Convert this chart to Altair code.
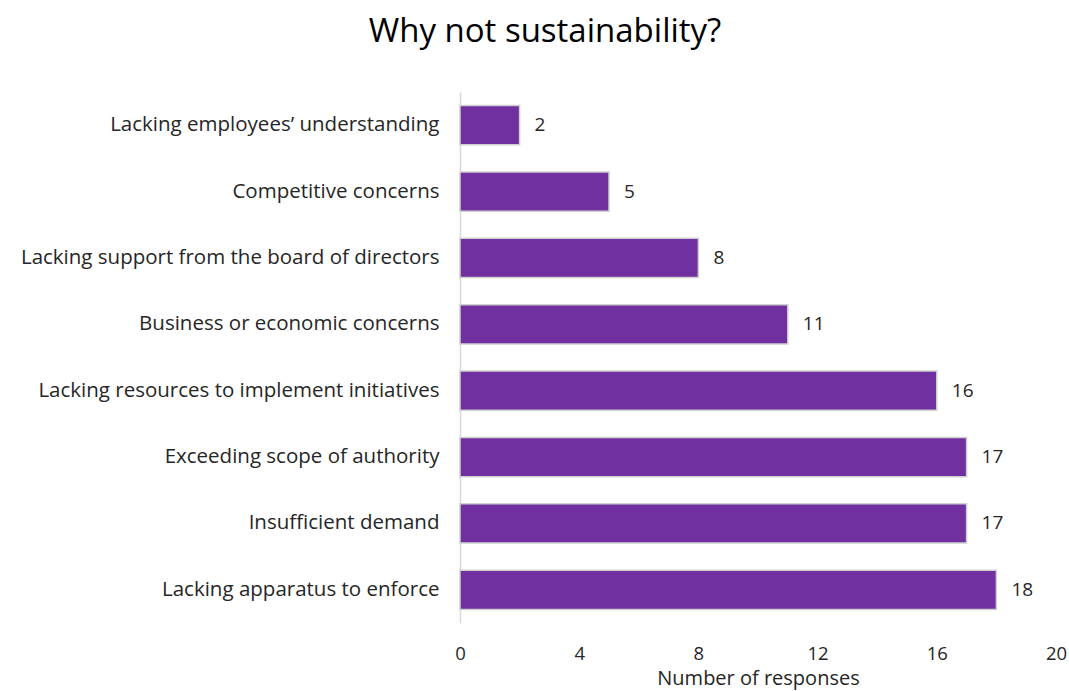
import altair as alt
import pandas as pd

categories = [
    "Lacking employees\u2019 understanding",
    "Competitive concerns",
    "Lacking support from the board of directors",
    "Business or economic concerns",
    "Lacking resources to implement initiatives",
    "Exceeding scope of authority",
    "Insufficient demand",
    "Lacking apparatus to enforce",
]
values = [2, 5, 8, 11, 16, 17, 17, 18]
x_ticks = [0, 4, 8, 12, 16, 20]

df = pd.DataFrame({"reason": categories, "count": values})

FONT = "Open Sans"
TXT = "#262626"

base = alt.Chart(df)

y_enc = alt.Y(
    "reason:N",
    sort=categories,
    title=None,
    scale=alt.Scale(paddingInner=0.41, paddingOuter=0.205),
    axis=alt.Axis(
        ticks=False,
        domain=True,
        domainColor="#D9D9D9",
        domainWidth=1.5,
        labelPadding=21,
        labelLimit=600,
        labelFont=FONT,
        labelFontSize=20.5,
        labelColor=TXT,
    ),
)

bars = base.mark_bar(color="#7030A0", stroke="#D0D0D0", strokeWidth=1.5).encode(
    x=alt.X(
        "count:Q",
        scale=alt.Scale(domain=[0, 20], nice=False),
        title="Number of responses",
        axis=alt.Axis(
            values=x_ticks,
            grid=False,
            ticks=False,
            domain=False,
            labelFlush=False,
            labelPadding=21,
            labelFont=FONT,
            labelFontSize=18.5,
            labelColor=TXT,
            titleFont=FONT,
            titleFontSize=20,
            titleFontWeight="normal",
            titleColor=TXT,
            titlePadding=6,
        ),
    ),
    y=y_enc,
)

labels = base.mark_text(
    align="left", baseline="middle", dx=15, font=FONT, fontSize=19, color=TXT
).encode(
    x="count:Q",
    y=alt.Y("reason:N", sort=categories),
    text="count:Q",
)

chart = (
    (bars + labels)
    .properties(
        width=596,
        height=531,
        title=alt.TitleParams(
            "Why not sustainability?",
            font=FONT,
            fontSize=33,
            fontWeight="normal",
            color="#000000",
            anchor="middle",
            frame="group",
            dx=-213,
            offset=43,
        ),
        autosize=alt.AutoSizeParams(type="none"),
        padding={"left": 460, "top": 92, "right": 13, "bottom": 68},
    )
    .configure_view(stroke=None)
)

chart.save("out.html", embed_options={"renderer": "svg", "actions": False})
